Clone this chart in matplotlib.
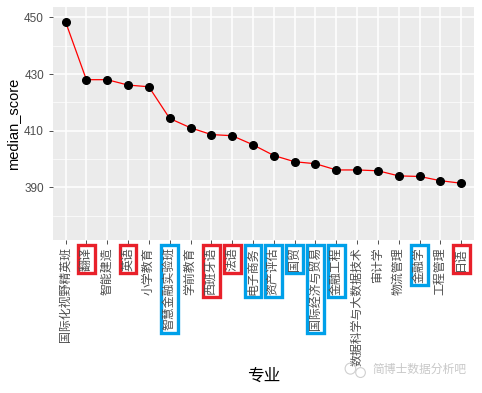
import matplotlib

matplotlib.use("Agg")
import matplotlib.pyplot as plt
from matplotlib.patches import Ellipse

plt.rcParams["font.family"] = ["Liberation Sans", "Noto Sans CJK SC", "DejaVu Sans"]

majors = [
    "国际化视野精英班", "翻译", "智能建造", "英语", "小学教育",
    "智慧金融实验班", "学前教育", "西班牙语", "法语", "电子商务",
    "资产评估", "国贸", "国际经济与贸易", "金融工程", "数据科学与大数据技术",
    "审计学", "物流管理", "金融学", "工程管理", "日语",
]
median_score = [
    448.5, 428.0, 428.0, 426.1, 425.5,
    414.3, 411.0, 408.6, 408.2, 405.0,
    401.2, 399.0, 398.3, 396.1, 396.1,
    395.8, 394.0, 393.8, 392.3, 391.4,
]
red_boxed = ["翻译", "英语", "西班牙语", "法语", "日语"]
blue_boxed = ["智慧金融实验班", "电子商务", "资产评估", "国贸", "国际经济与贸易", "金融工程", "金融学"]
y_ticks = [390, 410, 430, 450]
y_minor = [380, 400, 420, 440]

fig = plt.figure(figsize=(4.82, 3.93), dpi=100)
ax = fig.add_axes([0.110, 0.389, 0.873, 0.594])
ax.set_facecolor("#EBEBEB")
for s in ax.spines.values():
    s.set_visible(False)

x = list(range(len(majors)))
ax.plot(x, median_score, color="red", lw=0.9, zorder=3)
ax.plot(x, median_score, "o", color="black", ms=5.5, zorder=4)

ax.set_xlim(-0.6, len(majors) - 1 + 0.6)
ax.set_ylim(371.3, 453.8)
ax.set_yticks(y_ticks)
ax.set_yticks(y_minor, minor=True)
ax.set_xticks(x)
ax.set_xticklabels(majors, rotation=90, ha="center", va="top", fontsize=8.6, color="#4D4D4D")
ax.tick_params(axis="y", which="major", labelsize=8.5, labelcolor="#4D4D4D", color="#333333", length=3, width=0.6)
ax.tick_params(axis="y", which="minor", length=0)
ax.tick_params(axis="x", color="#333333", length=3, width=0.6, pad=2)
ax.grid(which="major", color="white", lw=1.1)
ax.grid(which="minor", color="white", lw=0.5)
ax.set_axisbelow(True)

for lbl in ax.get_xticklabels():
    t = lbl.get_text()
    if t in red_boxed:
        lbl.set_bbox(dict(boxstyle="square,pad=0.2", fc="none", ec="#E8202A", lw=2.4))
    elif t in blue_boxed:
        lbl.set_bbox(dict(boxstyle="square,pad=0.2", fc="none", ec="#00A0E9", lw=2.4))

ax.set_ylabel("median_score", fontsize=10.5, color="black", labelpad=3)
fig.text(0.547, 0.042, "专业", ha="center", va="center", fontsize=12)

# watermark
fig.text(0.772, 0.058, "简博士数据分析吧", ha="left", va="center", fontsize=8.5, color="#C8C8C8")
fig.patches.append(Ellipse((0.727, 0.062), 0.022, 0.028, transform=fig.transFigure,
                           fill=False, ec="#CFCFCF", lw=0.8))
fig.patches.append(Ellipse((0.748, 0.052), 0.02, 0.025, transform=fig.transFigure,
                           fill=False, ec="#CFCFCF", lw=0.8))

fig.savefig("out.png", dpi=100)
